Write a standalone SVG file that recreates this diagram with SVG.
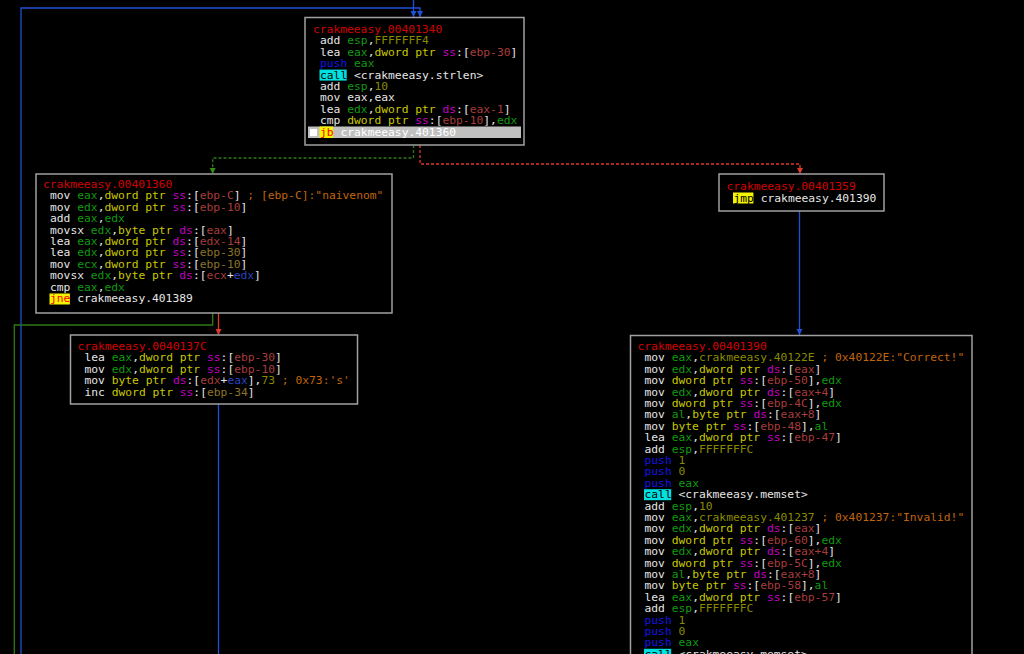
<svg xmlns="http://www.w3.org/2000/svg" width="1024" height="654" viewBox="0 0 1024 654">
<style>
.t{font-family:"DejaVu Sans Mono","Liberation Mono",monospace;font-size:11.3px;white-space:pre;fill:#e6e6e6}
.ti{fill:#d40000}
.g{fill:#119a11}
.y{fill:#c8c800}
.s{fill:#c000c0}
.m{fill:#a83c3c}
.m2{fill:#8c7228}
.n{fill:#8a8a00}
.c{fill:#c0650c}
.b{fill:#2a45c0}
.p{fill:#1414e6}
.k{fill:#000000}
.jr{fill:#ff0000}
.box{fill:#000;stroke:#a0a0a0;stroke-width:1.5}
.cy{fill:#00e0e0}
.ye{fill:#f4f400}
.ln{fill:none;stroke-width:1.3}
.bl{stroke:#1f50d8}
.gr{stroke:#2e7a14}
.rd{stroke:#e03828}
.dash{stroke-dasharray:3 2}
</style>
<defs>
<marker id="ab" markerUnits="userSpaceOnUse" markerWidth="7" markerHeight="7" refX="6" refY="3" orient="auto"><path d="M0,0 L6,3 L0,6 z" fill="#1f50d8"/></marker>
<marker id="ag" markerUnits="userSpaceOnUse" markerWidth="7" markerHeight="7" refX="6" refY="3" orient="auto"><path d="M0,0 L6,3 L0,6 z" fill="#3a8a1a"/></marker>
<marker id="ar" markerUnits="userSpaceOnUse" markerWidth="7" markerHeight="7" refX="6" refY="3" orient="auto"><path d="M0,0 L6,3 L0,6 z" fill="#e03828"/></marker>
</defs>
<rect x="0" y="0" width="1024" height="654" fill="#000"/>

<g id="connectors">
<path class="ln bl" d="M413.5,0 V17" marker-end="url(#ab)"/>
<path class="ln bl" d="M21,654 V8 H420 V17" marker-end="url(#ab)"/>
<path class="ln gr dash" d="M413.5,145 V158 H212.7 V174" marker-end="url(#ag)"/>
<path class="ln rd dash" d="M420,145 V164 H800 V174" marker-end="url(#ar)"/>
<path class="ln gr" d="M212.7,313 V325 H14.3 V654"/>
<path class="ln rd" d="M218.5,313 V335" marker-end="url(#ar)"/>
<path class="ln bl" d="M218.5,404 V654"/>
<path class="ln bl" d="M799.5,211 V335" marker-end="url(#ab)"/>
</g>

<g id="n401340">
<rect class="box" x="305" y="17.5" width="219" height="127.5"/>
<rect class="cy" x="319.5" y="69.6" width="27.2" height="11"/>
<rect x="308" y="126.5" width="213" height="11.5" fill="#c0c0c0"/>
<rect x="310" y="129" width="7" height="7" fill="#ffffff"/>
<rect class="ye" x="319.5" y="126.5" width="13.6" height="11.5"/>
<text class="t ti" x="313" y="33">crakmeeasy.00401340</text>
<text class="t" x="320" y="44.4">add <tspan class="g">esp</tspan>,<tspan class="n">FFFFFFF4</tspan></text>
<text class="t" x="320" y="55.8">lea <tspan class="g">eax</tspan>,<tspan class="y">dword ptr</tspan> <tspan class="s">ss</tspan>:[<tspan class="m">ebp-30</tspan>]</text>
<text class="t" x="320" y="67.2"><tspan class="p">push</tspan> <tspan class="g">eax</tspan></text>
<text class="t" x="320" y="78.6"><tspan class="k">call</tspan> &lt;crakmeeasy.strlen&gt;</text>
<text class="t" x="320" y="90">add <tspan class="g">esp</tspan>,<tspan class="n">10</tspan></text>
<text class="t" x="320" y="101.4">mov eax,eax</text>
<text class="t" x="320" y="112.8">lea <tspan class="g">edx</tspan>,<tspan class="y">dword ptr</tspan> <tspan class="s">ds</tspan>:[<tspan class="m">eax-1</tspan>]</text>
<text class="t" x="320" y="124.2">cmp <tspan class="y">dword ptr</tspan> <tspan class="s">ss</tspan>:[<tspan class="m">ebp-10</tspan>],<tspan class="g">edx</tspan></text>
<text class="t" x="320" y="135.6"><tspan class="jr">jb</tspan> <tspan fill="#ffffff">crakmeeasy.401360</tspan></text>
</g>

<g id="n401360">
<rect class="box" x="36" y="174" width="356" height="139"/>
<rect class="ye" x="49.5" y="293.5" width="20.4" height="11"/>
<text class="t ti" x="43" y="188">crakmeeasy.00401360</text>
<text class="t" x="50" y="199.4">mov <tspan class="g">eax</tspan>,<tspan class="y">dword ptr</tspan> <tspan class="s">ss</tspan>:[<tspan class="m">ebp-C</tspan>] <tspan class="c">; [ebp-C]:"naivenom"</tspan></text>
<text class="t" x="50" y="210.8">mov <tspan class="g">edx</tspan>,<tspan class="y">dword ptr</tspan> <tspan class="s">ss</tspan>:[<tspan class="m">ebp-10</tspan>]</text>
<text class="t" x="50" y="222.2">add <tspan class="g">eax</tspan>,<tspan class="g">edx</tspan></text>
<text class="t" x="50" y="233.6">movsx <tspan class="g">edx</tspan>,<tspan class="y">byte ptr</tspan> <tspan class="s">ds</tspan>:[<tspan class="m">eax</tspan>]</text>
<text class="t" x="50" y="245">lea <tspan class="g">eax</tspan>,<tspan class="y">dword ptr</tspan> <tspan class="s">ds</tspan>:[<tspan class="m">edx-14</tspan>]</text>
<text class="t" x="50" y="256.4">lea <tspan class="g">edx</tspan>,<tspan class="y">dword ptr</tspan> <tspan class="s">ss</tspan>:[<tspan class="m2">ebp-30</tspan>]</text>
<text class="t" x="50" y="267.8">mov <tspan class="g">ecx</tspan>,<tspan class="y">dword ptr</tspan> <tspan class="s">ss</tspan>:[<tspan class="m2">ebp-10</tspan>]</text>
<text class="t" x="50" y="279.2">movsx <tspan class="g">edx</tspan>,<tspan class="y">byte ptr</tspan> <tspan class="s">ds</tspan>:[<tspan class="m">ecx</tspan>+<tspan class="b">edx</tspan>]</text>
<text class="t" x="50" y="290.6">cmp <tspan class="g">eax</tspan>,<tspan class="g">edx</tspan></text>
<text class="t" x="50" y="302"><tspan class="jr">jne</tspan> crakmeeasy.401389</text>
</g>

<g id="n40137C">
<rect class="box" x="70.5" y="335" width="287" height="69"/>
<text class="t ti" x="77.5" y="350">crakmeeasy.0040137C</text>
<text class="t" x="84.5" y="361.4">lea <tspan class="g">eax</tspan>,<tspan class="y">dword ptr</tspan> <tspan class="s">ss</tspan>:[<tspan class="m">ebp-30</tspan>]</text>
<text class="t" x="84.5" y="372.8">mov <tspan class="g">edx</tspan>,<tspan class="y">dword ptr</tspan> <tspan class="s">ss</tspan>:[<tspan class="m">ebp-10</tspan>]</text>
<text class="t" x="84.5" y="384.2">mov <tspan class="y">byte ptr</tspan> <tspan class="s">ds</tspan>:[<tspan class="m">edx</tspan>+<tspan class="b">eax</tspan>],<tspan class="n">73</tspan> <tspan class="c">; 0x73:'s'</tspan></text>
<text class="t" x="84.5" y="395.6">inc <tspan class="y">dword ptr</tspan> <tspan class="s">ss</tspan>:[<tspan class="m2">ebp-34</tspan>]</text>
</g>

<g id="n401359">
<rect class="box" x="719" y="174" width="165" height="37"/>
<rect class="ye" x="733" y="192.5" width="20.4" height="11"/>
<text class="t ti" x="726.5" y="190.3">crakmeeasy.00401359</text>
<text class="t" x="733.5" y="201.5"><tspan class="k">jmp</tspan> crakmeeasy.401390</text>
</g>

<g id="n401390">
<rect class="box" x="630.5" y="335.5" width="341.5" height="400"/>
<rect class="cy" x="644" y="489.2" width="27.2" height="11"/>
<rect class="cy" x="644" y="648.8" width="27.2" height="11"/>
<text class="t ti" x="637.5" y="350">crakmeeasy.00401390</text>
<text class="t" x="644.5" y="361.4">mov <tspan class="g">eax</tspan>,<tspan class="n">crakmeeasy.40122E</tspan> <tspan class="c">; 0x40122E:"Correct!"</tspan></text>
<text class="t" x="644.5" y="372.8">mov <tspan class="g">edx</tspan>,<tspan class="y">dword ptr</tspan> <tspan class="s">ds</tspan>:[<tspan class="m">eax</tspan>]</text>
<text class="t" x="644.5" y="384.2">mov <tspan class="y">dword ptr</tspan> <tspan class="s">ss</tspan>:[<tspan class="m">ebp-50</tspan>],<tspan class="g">edx</tspan></text>
<text class="t" x="644.5" y="395.6">mov <tspan class="g">edx</tspan>,<tspan class="y">dword ptr</tspan> <tspan class="s">ds</tspan>:[<tspan class="m">eax+4</tspan>]</text>
<text class="t" x="644.5" y="407">mov <tspan class="y">dword ptr</tspan> <tspan class="s">ss</tspan>:[<tspan class="m">ebp-4C</tspan>],<tspan class="g">edx</tspan></text>
<text class="t" x="644.5" y="418.4">mov <tspan class="g">al</tspan>,<tspan class="y">byte ptr</tspan> <tspan class="s">ds</tspan>:[<tspan class="m">eax+8</tspan>]</text>
<text class="t" x="644.5" y="429.8">mov <tspan class="y">byte ptr</tspan> <tspan class="s">ss</tspan>:[<tspan class="m">ebp-48</tspan>],<tspan class="g">al</tspan></text>
<text class="t" x="644.5" y="441.2">lea <tspan class="g">eax</tspan>,<tspan class="y">dword ptr</tspan> <tspan class="s">ss</tspan>:[<tspan class="m">ebp-47</tspan>]</text>
<text class="t" x="644.5" y="452.6">add <tspan class="g">esp</tspan>,<tspan class="n">FFFFFFFC</tspan></text>
<text class="t" x="644.5" y="464"><tspan class="p">push</tspan> <tspan class="n">1</tspan></text>
<text class="t" x="644.5" y="475.4"><tspan class="p">push</tspan> <tspan class="n">0</tspan></text>
<text class="t" x="644.5" y="486.8"><tspan class="p">push</tspan> <tspan class="g">eax</tspan></text>
<text class="t" x="644.5" y="498.2"><tspan class="k">call</tspan> &lt;crakmeeasy.memset&gt;</text>
<text class="t" x="644.5" y="509.6">add <tspan class="g">esp</tspan>,<tspan class="n">10</tspan></text>
<text class="t" x="644.5" y="521">mov <tspan class="g">eax</tspan>,<tspan class="n">crakmeeasy.401237</tspan> <tspan class="c">; 0x401237:"Invalid!"</tspan></text>
<text class="t" x="644.5" y="532.4">mov <tspan class="g">edx</tspan>,<tspan class="y">dword ptr</tspan> <tspan class="s">ds</tspan>:[<tspan class="m">eax</tspan>]</text>
<text class="t" x="644.5" y="543.8">mov <tspan class="y">dword ptr</tspan> <tspan class="s">ss</tspan>:[<tspan class="m">ebp-60</tspan>],<tspan class="g">edx</tspan></text>
<text class="t" x="644.5" y="555.2">mov <tspan class="g">edx</tspan>,<tspan class="y">dword ptr</tspan> <tspan class="s">ds</tspan>:[<tspan class="m">eax+4</tspan>]</text>
<text class="t" x="644.5" y="566.6">mov <tspan class="y">dword ptr</tspan> <tspan class="s">ss</tspan>:[<tspan class="m">ebp-5C</tspan>],<tspan class="g">edx</tspan></text>
<text class="t" x="644.5" y="578">mov <tspan class="g">al</tspan>,<tspan class="y">byte ptr</tspan> <tspan class="s">ds</tspan>:[<tspan class="m">eax+8</tspan>]</text>
<text class="t" x="644.5" y="589.4">mov <tspan class="y">byte ptr</tspan> <tspan class="s">ss</tspan>:[<tspan class="m">ebp-58</tspan>],<tspan class="g">al</tspan></text>
<text class="t" x="644.5" y="600.8">lea <tspan class="g">eax</tspan>,<tspan class="y">dword ptr</tspan> <tspan class="s">ss</tspan>:[<tspan class="m">ebp-57</tspan>]</text>
<text class="t" x="644.5" y="612.2">add <tspan class="g">esp</tspan>,<tspan class="n">FFFFFFFC</tspan></text>
<text class="t" x="644.5" y="623.6"><tspan class="p">push</tspan> <tspan class="n">1</tspan></text>
<text class="t" x="644.5" y="635"><tspan class="p">push</tspan> <tspan class="n">0</tspan></text>
<text class="t" x="644.5" y="646.4"><tspan class="p">push</tspan> <tspan class="g">eax</tspan></text>
<text class="t" x="644.5" y="657.8"><tspan class="k">call</tspan> &lt;crakmeeasy.memset&gt;</text>
</g>
</svg>
